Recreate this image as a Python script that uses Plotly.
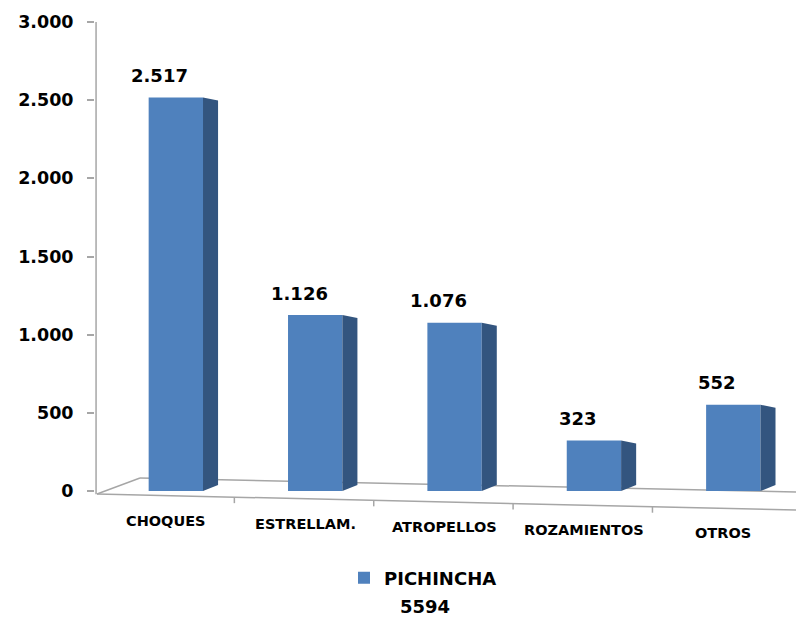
import plotly.graph_objects as go

categories = ["CHOQUES", "ESTRELLAM.", "ATROPELLOS", "ROZAMIENTOS", "OTROS"]
values = [2517, 1126, 1076, 323, 552]
series_name = "PICHINCHA"
series_total = "5594"
y_ticks = [0, 500, 1000, 1500, 2000, 2500, 3000]

FRONT = "#4F81BD"
SIDE = "#33557F"
GRID = "#A6A6A6"
FONT = "DejaVu Sans"

bar_w = 0.39
depth = 0.108
top_drop = 19
bottom_rise = 38

X_MIN, X_MAX = -0.58, 4.45
L, R, T, B = 95, 0, 22, 108
W, H = 796, 620
PW, PH = W - L - R, H - T - B

def px_to_paper_x(px):
    return (px - L) / PW

def px_to_paper_y(py):
    return (H - B - py) / PH

def data_x_to_px(xd):
    return L + (xd - X_MIN) / (X_MAX - X_MIN) * PW

# floor line endpoints in pixels
FL0 = (97, 494)
FL1 = (796, 510)
BL0 = (140, 478)
BL1 = (796, 492)

def front_y_px(px):
    return FL0[1] + (px - FL0[0]) * (FL1[1] - FL0[1]) / (FL1[0] - FL0[0])

xs = list(range(len(categories)))
fig = go.Figure()

# side faces (3D look)
for i, v in zip(xs, values):
    x0 = i + bar_w / 2
    x1 = x0 + depth
    fig.add_trace(go.Scatter(
        x=[x0, x1, x1, x0, x0],
        y=[0, bottom_rise, v - top_drop, v, 0],
        fill="toself", fillcolor=SIDE, mode="lines",
        line=dict(width=0, color=SIDE), showlegend=False, hoverinfo="skip"))

fig.add_trace(go.Bar(
    x=xs, y=values, width=bar_w, name=series_name,
    marker=dict(color=FRONT, line=dict(width=0)), showlegend=True))

def fmt(v):
    return f"{v:,}".replace(",", ".")

for i, v in zip(xs, values):
    fig.add_annotation(x=i, y=v, text=fmt(v), showarrow=False, yshift=22, xshift=-16,
                       font=dict(family=FONT, size=18, color="black", weight="bold"))

# category labels following the perspective floor
for i, c in enumerate(categories):
    fig.add_annotation(x=i, y=px_to_paper_y(521 + 3 * i), xref="x", yref="paper", text=c,
                       showarrow=False, xshift=-10, xanchor="center", yanchor="middle",
                       font=dict(family=FONT, size=14.5, color="black", weight="bold"))

# total under legend
fig.add_annotation(x=px_to_paper_x(425), y=px_to_paper_y(607), xref="paper", yref="paper",
                   text=series_total, showarrow=False, xanchor="center", yanchor="middle",
                   font=dict(family=FONT, size=18, color="black", weight="bold"))

line_style = dict(color=GRID, width=1.5)
# y axis line (0 .. max)
fig.add_shape(type="line", xref="paper", yref="y", x0=0.0015, x1=0.0015, y0=-20, y1=3000,
              line=line_style, layer="below")
# floor lines (perspective)
fig.add_shape(type="line", xref="paper", yref="paper",
              x0=px_to_paper_x(FL0[0]), y0=px_to_paper_y(FL0[1]),
              x1=px_to_paper_x(FL1[0]), y1=px_to_paper_y(FL1[1]), line=line_style, layer="below")
fig.add_shape(type="line", xref="paper", yref="paper",
              x0=px_to_paper_x(BL0[0]), y0=px_to_paper_y(BL0[1]),
              x1=px_to_paper_x(BL1[0]), y1=px_to_paper_y(BL1[1]), line=line_style, layer="below")
fig.add_shape(type="line", xref="paper", yref="paper",
              x0=px_to_paper_x(FL0[0]), y0=px_to_paper_y(FL0[1]),
              x1=px_to_paper_x(BL0[0]), y1=px_to_paper_y(BL0[1]), line=line_style, layer="below")
# category boundary ticks on front floor line
for i in range(len(categories) - 1):
    xd = i + 0.42
    py = front_y_px(data_x_to_px(xd))
    fig.add_shape(type="line", xref="x", yref="paper", x0=xd, x1=xd,
                  y0=px_to_paper_y(py), y1=px_to_paper_y(py + 6), line=line_style, layer="below")

fig.update_layout(
    width=W, height=H,
    margin=dict(l=L, r=R, t=T, b=B),
    plot_bgcolor="white", paper_bgcolor="white",
    separators=",.",
    font=dict(family=FONT, color="black"),
    xaxis=dict(range=[X_MIN, X_MAX], showticklabels=False,
               showgrid=False, zeroline=False, showline=False, ticks=""),
    yaxis=dict(range=[-134, 3000], tickvals=y_ticks, tickformat=",d",
               showgrid=False, zeroline=False, showline=False,
               ticks="outside", ticklen=7, tickcolor=GRID, tickwidth=1.5,
               ticklabelstandoff=10,
               tickfont=dict(family=FONT, size=17.5, color="black", weight="bold")),
    legend=dict(orientation="h", x=px_to_paper_x(423), xanchor="center",
                y=px_to_paper_y(578), yanchor="middle",
                font=dict(family=FONT, size=18, color="black", weight="bold")),
)

fig.write_html("out.html")
